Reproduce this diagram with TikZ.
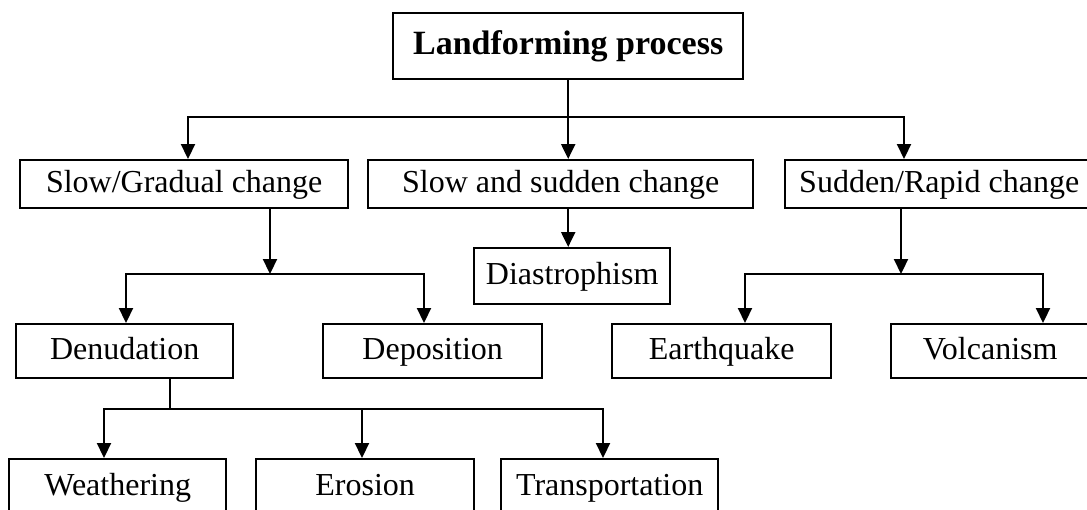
\documentclass[tikz,border=0pt]{standalone}
\usepackage{fontspec}
\setmainfont{Liberation Serif}
\usetikzlibrary{arrows.meta}

\begin{document}
\begin{tikzpicture}[
  x=0.5pt,
  y=-0.5pt,
  every node/.style={font=\fontsize{16}{19}\selectfont},
  box/.style={draw=black, line width=1.2pt, inner sep=0pt, anchor=north west,
              text height=11.5pt, text depth=3.5pt},
  rowtwo/.style={box, minimum height=24pt},
  rowthree/.style={box, minimum height=27pt},
  rowfour/.style={box, minimum height=28pt},
  link/.style={draw=black, line width=1.1pt},
  arr/.style={link, -{Triangle[length=7.5pt,width=7pt]}}
]
  \useasboundingbox (0,0) rectangle (1087,509);
  \clip (0,0) rectangle (1087,509);

  % boxes
  \node[box, minimum width=175pt, minimum height=33pt, text height=12pt, text depth=4pt,
        font=\fontsize{17}{20}\selectfont\bfseries] (top) at (392,12) {Landforming process};

  \node[rowtwo, minimum width=164pt] (slow) at (19,159) {Slow/Gradual change};
  \node[rowtwo, minimum width=192.5pt] (both) at (367,159) {Slow and sudden change};
  \node[rowtwo, minimum width=154pt] (sudden) at (784,159) {Sudden/Rapid change};

  \node[box, minimum width=98pt, minimum height=28pt] (diast) at (473,247) {Diastrophism};

  \node[rowthree, minimum width=108.5pt] (denud) at (15,323) {Denudation};
  \node[rowthree, minimum width=109.5pt] (depos) at (322,323) {Deposition};
  \node[rowthree, minimum width=109.5pt] (quake) at (611,323) {Earthquake};
  \node[rowthree, minimum width=99pt] (volc) at (890,323) {Volcanism};

  \node[rowfour, minimum width=108.5pt] (weath) at (8,458) {Weathering};
  \node[rowfour, minimum width=109pt] (erosion) at (255,458) {Erosion};
  \node[rowfour, minimum width=108.5pt] (transp) at (500,458) {Transportation};

  % first level
  \coordinate (jtop) at (top.south |- 0,117);
  \draw[arr] (top.south) -- (both.north -| top.south);
  \draw[arr] (jtop) -| (slow.north -| 188,0);
  \draw[arr] (jtop) -| (sudden.north -| 904,0);

  % slow branch
  \coordinate (jslow) at (270,274);
  \draw[arr] (slow.south -| jslow) -- (jslow);
  \draw[arr] (jslow) -| (denud.north -| 126,0);
  \draw[arr] (jslow) -| (depos.north -| 424,0);

  % middle branch
  \draw[arr] (both.south -| jtop) -- (diast.north -| jtop);

  % sudden branch
  \coordinate (jsud) at (901,274);
  \draw[arr] (sudden.south -| jsud) -- (jsud);
  \draw[arr] (jsud) -| (quake.north -| 745,0);
  \draw[arr] (jsud) -| (volc.north -| 1043,0);

  % denudation
  \coordinate (jden) at (170,409);
  \draw[link] (denud.south -| jden) -- (jden);
  \draw[arr] (jden) -| (weath.north -| 104,0);
  \draw[arr] (jden) -| (erosion.north -| 362,0);
  \draw[arr] (jden) -| (transp.north -| 603,0);
\end{tikzpicture}
\end{document}
